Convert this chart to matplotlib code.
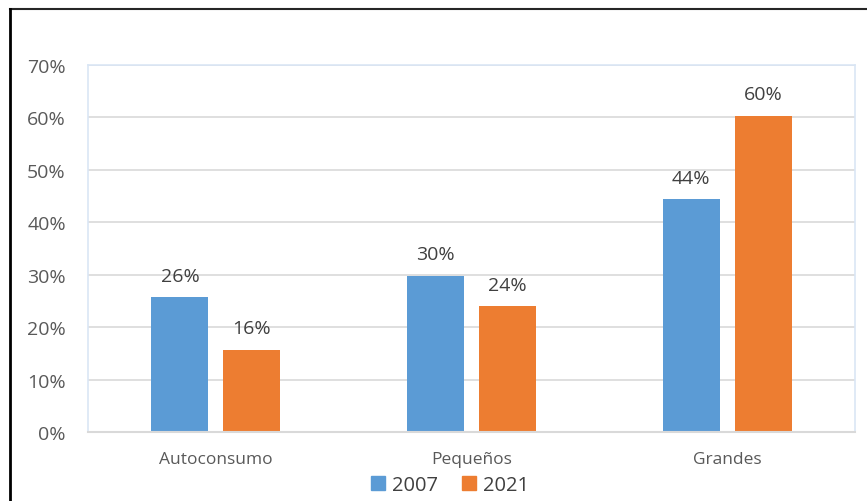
import matplotlib.pyplot as plt
import numpy as np
from matplotlib.lines import Line2D
from matplotlib.patches import Patch

plt.rcParams['font.family'] = ['Open Sans', 'DejaVu Sans']

categories = ['Autoconsumo', 'Pequeños', 'Grandes']
years = ['2007', '2021']
share_2007 = [25.7, 29.8, 44.4]
share_2021 = [15.7, 24.0, 60.3]
labels_2007 = ['26%', '30%', '44%']
labels_2021 = ['16%', '24%', '60%']

blue = '#5B9BD5'
orange = '#ED7D31'
txt = '#595959'
dark = '#404040'

fig = plt.figure(figsize=(8.67, 5.02), dpi=100)
ax = fig.add_axes([88 / 867, 1 - 433 / 502, 767 / 867, 367 / 502])

x = np.arange(len(categories))
w = 0.223
off = 0.1406
b1 = ax.bar(x - off, share_2007, w, color=blue, zorder=3)
b2 = ax.bar(x + off, share_2021, w, color=orange, zorder=3)

# data labels above bars
for bars, labs in [(b1, labels_2007), (b2, labels_2021)]:
    for rect, lab in zip(bars, labs):
        ax.annotate(lab, (rect.get_x() + rect.get_width() / 2, rect.get_height()),
                    xytext=(0, 9), textcoords='offset points',
                    ha='center', va='bottom', fontsize=14, color=dark)

ax.set_xlim(-0.5, 2.5)
ax.set_ylim(0, 70)
ax.set_yticks(np.arange(0, 71, 10))
ax.set_yticklabels(['%d%%' % v for v in range(0, 71, 10)])
ax.set_xticks(x)
ax.set_xticklabels(categories)
ax.tick_params(axis='y', length=0, pad=16, labelsize=14, labelcolor=txt)
ax.tick_params(axis='x', length=0, pad=14, labelsize=12.5, labelcolor=txt)
ax.yaxis.grid(True, color='#D9D9D9', linewidth=1.2, zorder=0)

for s in ['left', 'right', 'top']:
    ax.spines[s].set_color('#DAE6F5')
    ax.spines[s].set_linewidth(1.2)
ax.spines['bottom'].set_color('#D9D9D9')
ax.spines['bottom'].set_linewidth(1.5)
ax.spines['bottom'].set_zorder(4)

handles = [Patch(color=blue, label=years[0]), Patch(color=orange, label=years[1])]
fig.legend(handles=handles, loc='center', bbox_to_anchor=(450 / 867, 1 - 486 / 502),
           ncol=2, frameon=False, fontsize=14.5, labelcolor=dark,
           handlelength=0.7, handleheight=0.7, handletextpad=0.35,
           columnspacing=1.2, borderpad=0)

# outer frame lines (top and left)
fy = 1 - 10 / 502
fx = 10 / 867
fig.add_artist(Line2D([fx, 1], [fy, fy], color='#262626', linewidth=1.5,
                      transform=fig.transFigure))
fig.add_artist(Line2D([fx, fx], [0, fy], color='#000000', linewidth=2,
                      transform=fig.transFigure))

plt.savefig('out.png', dpi=100)
